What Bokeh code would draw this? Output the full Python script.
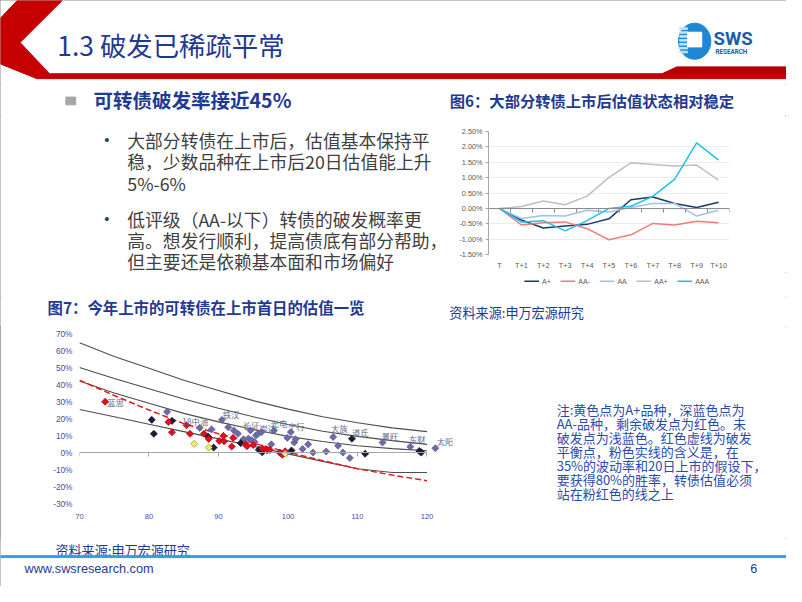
import math
from bokeh.plotting import figure
from bokeh.models import Range1d, FixedTicker, PrintfTickFormatter, LinearAxis
from bokeh.layouts import column, row
from bokeh.embed import file_html
from bokeh.resources import INLINE
from bokeh.core.properties import value

# ---------------- data: figure 6 ----------------
days6 = ["T", "T+1", "T+2", "T+3", "T+4", "T+5", "T+6", "T+7", "T+8", "T+9", "T+10"]
rating_names = ["A+", "AA-", "AA", "AA+", "AAA"]
a_plus = [0.00, -0.38, -0.64, -0.57, -0.52, -0.34, 0.28, 0.37, 0.16, 0.03, 0.20]
aa_minus = [0.00, -0.54, -0.47, -0.44, -0.66, -1.02, -0.86, -0.49, -0.54, -0.42, -0.47]
aa = [0.00, -0.33, -0.23, -0.25, -0.06, -0.12, 0.03, 0.16, 0.16, -0.25, -0.06]
aa_plus = [0.00, 0.06, 0.24, 0.12, 0.40, 1.01, 1.48, 1.43, 1.38, 1.41, 0.92]
aaa = [0.00, -0.45, -0.40, -0.73, -0.40, 0.00, 0.07, 0.39, 0.95, 2.13, 1.57]
y_ticks6 = [-1.5, -1.0, -0.5, 0.0, 0.5, 1.0, 1.5, 2.0, 2.5]

# ---------------- data: figure 7 ----------------
x_ticks7 = [70, 80, 90, 100, 110, 120]
y_ticks7 = [-30, -20, -10, 0, 10, 20, 30, 40, 50, 60, 70]
curve_x = [70, 75, 80, 85, 90, 95, 100, 105, 110, 115, 120]
curve_1 = [64.5, 56.5, 49.5, 42.5, 36.5, 30.5, 25.5, 21.0, 17.5, 14.5, 12.3]
curve_2 = [50.0, 43.5, 37.5, 31.5, 26.0, 21.0, 16.5, 12.5, 9.5, 7.0, 4.8]
curve_3 = [42.0, 35.0, 29.0, 23.0, 18.0, 13.5, 9.5, 6.5, 4.0, 2.3, 1.0]
curve_4 = [25.3, 21.0, 16.6, 12.3, 8.0, 3.7, -0.8, -5.2, -9.6, -11.8, -11.8]
breakeven = [42.5, 33.5, 25.0, 17.0, 11.0, 5.5, 0.2, -4.8, -9.5, -13.3, -16.6]

red_x = [73.7, 82.8, 83.3, 85.4, 85.9, 87.9, 88.6, 90.1, 90.7, 90.8, 91.9, 92.1,
         93.9, 94.1, 95.0, 96.3, 96.8, 97.0, 97.4, 98.8, 99.0, 99.2, 99.6]
red_y = [29.9, 18.0, 11.9, 16.0, 11.0, 11.0, 8.0, 6.8, 9.8, 6.6, 3.5, 8.6,
         4.9, 3.7, 4.4, 2.4, 2.0, 1.2, 1.5, 0.0, -0.5, -1.3, 0.7]
dark_x = [80.4, 80.7, 83.3, 88.5, 89.3, 93.2, 95.8, 96.3, 100.5, 109.2, 111.1, 118.9, 119.2]
dark_y = [19.2, 11.0, 18.6, 9.4, 2.9, 5.5, 1.6, 0.1, 1.2, 8.1, -0.7, 0.9, 0.1]
yellow_x = [86.5, 88.6, 99.6]
yellow_y = [5.1, 2.9, -0.7]
blue_x = [82.6, 87.3, 89.0, 90.5, 91.4, 92.2, 92.8, 93.6, 94.3, 94.6, 94.8, 95.2, 95.4,
          95.7, 96.2, 97.6, 98.0, 99.9, 100.4, 100.9, 101.1, 102.1, 102.9, 103.6, 105.5,
          106.5, 107.2, 107.9, 108.9, 113.6, 117.6, 119.1, 121.2]
blue_y = [23.9, 14.5, 13.6, 19.2, 14.9, 13.0, 11.0, 7.8, 8.2, 13.0, 7.2, 6.2, 10.1,
          11.0, 12.0, 4.8, 13.0, 8.6, 12.0, 5.9, 7.8, 2.1, 4.8, 0.0, 0.6,
          9.1, 4.0, 0.0, -3.2, 5.9, 3.4, 0.0, 2.5]
name_labels = ["蓝思", "18中油", "铁汉", "长证", "崇达", "光电", "宁行", "大族", "道氏", "景旺", "东财", "太阳"]
name_x = [74.0, 84.8, 90.6, 93.5, 95.9, 97.5, 100.0, 106.2, 109.2, 113.5, 117.4, 121.4]
name_y = [29.7, 18.6, 22.4, 16.1, 14.2, 17.1, 15.7, 14.2, 12.3, 10.0, 7.7, 6.6]

note_lines = ["注:黄色点为A+品种，深蓝色点为",
              "AA-品种，剩余破发点为红色。未",
              "破发点为浅蓝色。红色虚线为破发",
              "平衡点，粉色实线的含义是，在",
              "35%的波动率和20日上市的假设下，",
              "要获得80%的胜率，转债估值必须",
              "站在粉红色的线之上"]
body_lines = ["大部分转债在上市后，估值基本保持平",
              "稳，少数品种在上市后20日估值能上升",
              "5%-6%",
              "低评级（AA-以下）转债的破发概率更",
              "高。想发行顺利，提高债底有部分帮助，",
              "但主要还是依赖基本面和市场偏好"]

# ---------------- geometry ----------------
SW, SH = 802, 602
OW, OH = 786, 586
KX, KY = OW / SW, OH / SH
KF = (KX + KY) / 2


def PX(v):
    return int(round(v * KX))


def PY(v):
    return int(round(v * KY))


def fs(s):
    return f"{s * KF:.1f}px"


CJK = "Noto Sans CJK SC"
LAT = "Liberation Sans"
BLUE = "#1F3A93"
XT = 454   # split left text / figure-6 title
XM = 464   # split left text / figure-6 chart
YT = 118   # bottom of the title strip


def panel(x0, x1, y0, y1):
    p = figure(width=PX(x1) - PX(x0), height=PY(y1) - PY(y0),
               x_range=Range1d(x0, x1), y_range=Range1d(y1, y0),
               x_axis_type=None, y_axis_type=None, toolbar_location=None,
               output_backend="svg", min_border=0)
    p.outline_line_color = None
    p.background_fill_color = "white"
    p.border_fill_color = "white"
    return p


def put(p, x, y, s, size, color, font=CJK, bold=False, align="left"):
    p.text(x=[x], y=[y], text=[s], text_font=value(font), text_font_size=fs(size),
           text_color=color, text_align=align, text_baseline="middle",
           text_font_style="bold" if bold else "normal")


# ---------------- header ----------------
hd = panel(0, 802, 0, 85)
hd.patch([17, 63, 20, 50, 802, 802, 37, 0, 0], [0, 0, 43, 75, 75, 80, 80, 65, 18], color="#C40000")
hd.patch([675, 690, 802, 802], [75, 68, 68, 75], color="#B40000")
put(hd, 58, 45, "1.3 破发已稀疏平常", 27, BLUE)
hd.ellipse(x=[708.3], y=[41.7], width=33, height=37, color="#1E88D4")
stripe_y = [28, 32, 36, 40, 44, 48, 52]
hd.quad(left=[693] * len(stripe_y), right=[701] * len(stripe_y), top=stripe_y,
        bottom=[s + 1.6 for s in stripe_y], color="#BFE3F8")
hd.quad(left=[701], right=[715.5], top=[32.5], bottom=[47.5], color="white")
put(hd, 727.5, 39.5, "SWS", 19, "#1A5DAD", font="Roboto", bold=True)
put(hd, 729.5, 52.5, "RESEARCH", 6.5, "#1A5DAD", font="Roboto", bold=True)

# ---------------- left text ----------------
lta = panel(0, XT, 85, YT)
lta.quad(left=[66.7], right=[76.7], top=[99], bottom=[107], color="#A6A6A6")
put(lta, 95, 102, "可转债破发率接近45%", 20, BLUE, bold=True)

ltb = panel(0, XM, YT, 305)
body_y = [143, 165, 187, 224, 246, 268]
for s, y in zip(body_lines, body_y):
    put(ltb, 129.3, y, s, 18.2, "#404040")
for y in (body_y[0], body_y[3]):
    put(ltb, 108.3, y, "•", 15, "#404040", font=LAT, align="center")

# ---------------- figure 6 ----------------
t6 = panel(XT, 802, 85, YT)
put(t6, 458.3, 101.5, "图6：大部分转债上市后估值状态相对稳定", 15.7, BLUE, bold=True)

F6L, F6R, F6T, F6B = 498.3, 743.5, 135, 261.7
Y6B = 279
xs6 = list(range(len(days6)))
p6 = figure(width=PX(802) - PX(XM), height=PY(Y6B) - PY(YT),
            x_range=Range1d(-0.5, len(days6) - 0.5), y_range=Range1d(y_ticks6[0], y_ticks6[-1]),
            min_border_left=PX(F6L) - PX(XM), min_border_right=PX(802) - PX(F6R),
            min_border_top=PY(F6T) - PY(YT), min_border_bottom=PY(Y6B) - PY(F6B),
            toolbar_location=None, output_backend="svg")
p6.outline_line_color = None
p6.background_fill_color = "white"
p6.border_fill_color = "white"
colors6 = ["#1F3864", "#F07C78", "#9DC3E6", "#BFBFBF", "#22BFEA"]
series6 = [a_plus, aa_minus, aa, aa_plus, aaa]
for ys, c in zip(series6, colors6):
    p6.line(xs6, ys, line_color=c, line_width=1.5)

xa = p6.xaxis[0]
xa.ticker = FixedTicker(ticks=xs6)
xa.major_label_overrides = {i: d for i, d in enumerate(days6)}
xa.axis_line_color = None
xa.major_tick_line_color = None
xa.minor_tick_line_color = None
xa.major_tick_out = 0
xa.major_label_standoff = 6
xa.major_label_text_font = LAT
xa.major_label_text_font_size = fs(7.5)
xa.major_label_text_color = "#595959"

ya = p6.yaxis[0]
ya.ticker = FixedTicker(ticks=y_ticks6)
ya.formatter = PrintfTickFormatter(format="%.2f%%")
ya.axis_line_color = "#A6A6A6"
ya.major_tick_line_color = "#A6A6A6"
ya.major_tick_out = 3
ya.major_tick_in = 0
ya.minor_tick_line_color = None
ya.major_label_standoff = 3
ya.major_label_text_font = LAT
ya.major_label_text_font_size = fs(7.5)
ya.major_label_text_color = "#595959"
p6.ygrid.ticker = FixedTicker(ticks=y_ticks6)
p6.ygrid.grid_line_color = "#EDEDED"
p6.xgrid.visible = False

z6 = LinearAxis(fixed_location=0,
                ticker=FixedTicker(ticks=[i - 0.5 for i in range(len(days6) + 1)]),
                bounds=(-0.5, len(days6) - 0.5),
                axis_line_color="#8C8C8C", major_tick_line_color="#8C8C8C",
                major_tick_out=4, major_tick_in=0, minor_tick_line_color=None,
                major_label_text_alpha=0, major_label_text_font_size="1px",
                major_label_standoff=0)
p6.add_layout(z6, "below")

# legend of figure 6, drawn in its own strip below the chart
l6 = panel(XM, 802, Y6B, 305)
LEG_Y, LEG_X0, LEG_FS = 288, 534.3, 7.2
char_w = {"A": 0.667, "+": 0.584, "-": 0.333}
seg_x0, seg_x1, lab_x = [], [], []
cur = LEG_X0
for n in rating_names:
    seg_x0.append(cur)
    seg_x1.append(cur + 15)
    lab_x.append(cur + 18)
    cur += 18 + sum(char_w[c] for c in n) * LEG_FS + 10
l6.segment(x0=seg_x0, y0=[LEG_Y] * len(seg_x0), x1=seg_x1, y1=[LEG_Y] * len(seg_x0),
           line_color=colors6, line_width=1.5)
l6.text(x=lab_x, y=[LEG_Y] * len(lab_x), text=rating_names, text_font=value(LAT),
        text_font_size=fs(LEG_FS), text_color="#595959", text_baseline="middle")

# ---------------- figure 7 ----------------
t7 = panel(0, 802, 305, 335)
put(t7, 48, 315, "图7：今年上市的可转债在上市首日的估值一览", 15.8, BLUE, bold=True)
put(t7, 458, 320, "资料来源:申万宏源研究", 13.4, BLUE)

F7L, F7T, F7B, F7R = 80.7, 341.7, 516.7, 461.0
PPU = (435.0 - F7L) / (x_ticks7[-1] - x_ticks7[0])
x7_max = x_ticks7[0] + (F7R - F7L) / PPU
p7 = figure(width=PX(465) - PX(0), height=PY(553) - PY(335),
            x_range=Range1d(x_ticks7[0], x7_max), y_range=Range1d(y_ticks7[0], y_ticks7[-1]),
            min_border_left=PX(F7L), min_border_right=PX(465) - PX(F7R),
            min_border_top=PY(F7T) - PY(335), min_border_bottom=PY(553) - PY(F7B),
            toolbar_location=None, output_backend="svg")
p7.outline_line_color = None
p7.background_fill_color = "white"
p7.border_fill_color = "white"
p7.xgrid.visible = False
p7.ygrid.visible = False

for cy in (curve_1, curve_2, curve_3, curve_4):
    p7.line(curve_x, cy, line_color="#4D4D4D", line_width=1.1)
p7.line(curve_x, breakeven, line_color="#E31A1C", line_width=1.5, line_dash="6 3")


def dia(xs, ys, fill, line):
    p7.scatter(xs, ys, marker="square", angle=math.pi / 4, size=5,
               fill_color=fill, line_color=line, line_width=0.7)


dia(blue_x, blue_y, "#6B6BA8", "#5A5A98")
dia(dark_x, dark_y, "#1D1D38", "#10102A")
dia(red_x, red_y, "#E0101E", "#B0000E")
dia(yellow_x, yellow_y, "#F2EE6A", "#8C8C3C")
p7.text(name_x, name_y, text=name_labels, text_font=value(CJK), text_font_size=fs(8.5),
        text_color="#5E6C8C", text_baseline="middle")

xa7 = p7.xaxis[0]
xa7.ticker = FixedTicker(ticks=x_ticks7)
xa7.axis_line_color = None
xa7.major_tick_line_color = None
xa7.minor_tick_line_color = None
xa7.major_tick_out = 0
xa7.major_label_standoff = 10
xa7.major_label_text_font = LAT
xa7.major_label_text_font_size = fs(7.8)
xa7.major_label_text_color = "#4B4BA0"

ya7 = p7.yaxis[0]
ya7.ticker = FixedTicker(ticks=y_ticks7)
ya7.formatter = PrintfTickFormatter(format="%d%%")
ya7.axis_line_color = None
ya7.major_tick_line_color = None
ya7.minor_tick_line_color = None
ya7.major_tick_out = 0
ya7.major_label_standoff = 7
ya7.major_label_text_font = LAT
ya7.major_label_text_font_size = fs(8.5)
ya7.major_label_text_color = "#4B4BA0"

z7 = LinearAxis(fixed_location=0, ticker=FixedTicker(ticks=x_ticks7),
                bounds=(x_ticks7[0], x_ticks7[-1]),
                axis_line_color="#A6A6A6", major_tick_line_color="#A6A6A6",
                major_tick_out=4, major_tick_in=0, minor_tick_line_color=None,
                major_label_text_alpha=0, major_label_text_font_size="1px",
                major_label_standoff=0)
p7.add_layout(z7, "below")

# ---------------- note ----------------
nt = panel(465, 802, 335, 553)
note_y = [420, 434.4, 448.8, 463.2, 477.6, 492, 506.4]
for s, y in zip(note_lines, note_y):
    put(nt, 567.3, y, s, 13.3, "#2B4AAE")

# ---------------- footer ----------------
ft = panel(0, 802, 553, 602)
put(ft, 56, 565, "资料来源:申万宏源研究", 13.4, BLUE)
ft.quad(left=[0], right=[802], top=[570.5], bottom=[572.5], color="#3A9AD9")
put(ft, 24.5, 584, "www.swsresearch.com", 13, BLUE, font=LAT)
put(ft, 765, 584, "6", 13, BLUE, font=LAT)

# each plot wrapped alone so that sibling plots do not share border alignment
top_strip = row(column(lta), column(t6))
mid_strip = row(column(ltb), column(column(p6), column(l6)))
mid = column(top_strip, mid_strip)
bot = row(column(p7), column(nt))
page = column(hd, mid, t7, bot, ft,
              styles={"outline": "1px solid #8C8C8C", "outline-offset": "-1px"})

open("out.html", "w").write(file_html(page, INLINE))
